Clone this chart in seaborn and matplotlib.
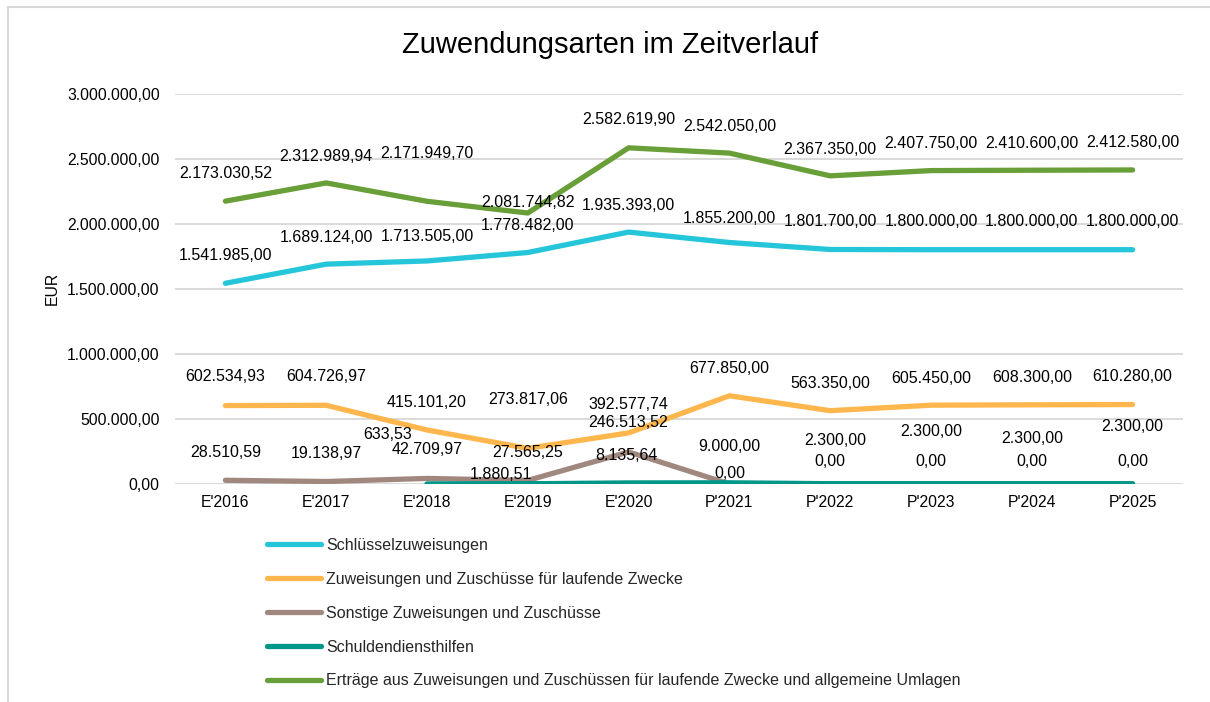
import numpy as np
import pandas as pd
import matplotlib
matplotlib.use("Agg")
import matplotlib.pyplot as plt
import seaborn as sns
from matplotlib.lines import Line2D
from matplotlib.ticker import FuncFormatter

# ---------------- data ----------------
years = ["E'2016", "E'2017", "E'2018", "E'2019", "E'2020",
         "P'2021", "P'2022", "P'2023", "P'2024", "P'2025"]
series_names = [
    "Schlüsselzuweisungen",
    "Zuweisungen und Zuschüsse für laufende Zwecke",
    "Sonstige Zuweisungen und Zuschüsse",
    "Schuldendiensthilfen",
    "Erträge aus Zuweisungen und Zuschüssen für laufende Zwecke und allgemeine Umlagen",
]
schluessel = [1541985.00, 1689124.00, 1713505.00, 1778482.00, 1935393.00,
              1855200.00, 1801700.00, 1800000.00, 1800000.00, 1800000.00]
laufend = [602534.93, 604726.97, 415101.20, 273817.06, 392577.74,
           677850.00, 563350.00, 605450.00, 608300.00, 610280.00]
sonstige = [28510.59, 19138.97, 42709.97, 27565.25, 246513.52,
            0.00, 0.00, 0.00, 0.00, 0.00]
schuldendienst = [np.nan, np.nan, 633.53, 1880.51, 8135.64,
                  9000.00, 2300.00, 2300.00, 2300.00, 2300.00]
ertraege = [2173030.52, 2312989.94, 2171949.70, 2081744.82, 2582619.90,
            2542050.00, 2367350.00, 2407750.00, 2410600.00, 2412580.00]
y_ticks = [0, 500000, 1000000, 1500000, 2000000, 2500000, 3000000]

# ---------------- styles ----------------
colors = ["#26C6DA", "#FFB74D", "#A1887F", "#009688", "#689F38"]
# label offsets (pixels) above each point
label_dy = [
    [28, 27, 24, 27, 27, 24, 28, 28, 28, 28],
    [29, 29, 27, 49, 28, 27, 27, 27, 27, 28],
    [28, 28, 29, 28, 29, 11, 22, 22, 22, 22],
    [0, 0, 49, 9, 27, 36, 43, 52, 45, 57],
    [28, 26, 48, 11, 28, 27, 26, 27, 27, 27],
]
label_dx = [
    [0] * 10,
    [0] * 10,
    [0] * 10,
    [0, 0, -39, -27, -2, 0, 5, 0, 0, 0],
    [0] * 10,
]

sns.set_theme(style="white")
plt.rcParams["font.family"] = ["Liberation Sans", "DejaVu Sans"]

W, H = 1210, 702
fig = plt.figure(figsize=(W / 100, H / 100), dpi=100)
fig.patch.set_facecolor("white")
ax = fig.add_axes([175 / W, 1 - 484 / H, (1183 - 175) / W, (484 - 93.5) / H])

all_values = [schluessel, laufend, sonstige, schuldendienst, ertraege]
rows = []
for name, vals in zip(series_names, all_values):
    for i, v in enumerate(vals):
        if not np.isnan(v):
            rows.append({"pos": i, "value": v, "series": name})
df = pd.DataFrame(rows)

sns.lineplot(data=df, x="pos", y="value", hue="series", hue_order=series_names,
             palette=colors, linewidth=3.8, legend=False, ax=ax, sort=False,
             estimator=None)
for ln in ax.get_lines():
    ln.set_solid_capstyle("round")
    ln.set_solid_joinstyle("round")


def de_fmt(v, _=None):
    s = f"{v:,.2f}"
    return s.replace(",", "X").replace(".", ",").replace("X", ".")


ax.set_xlim(-0.5, 9.5)
ax.set_ylim(0, 3000000)
ax.set_yticks(y_ticks)
ax.yaxis.set_major_formatter(FuncFormatter(de_fmt))
ax.set_xticks(range(len(years)))
ax.set_xticklabels(years)
ax.tick_params(axis="y", length=0, pad=11, labelsize=11.3, labelcolor="#000000")
ax.tick_params(axis="x", length=0, pad=8, labelsize=11.3, labelcolor="#000000")
ax.grid(axis="y", color="#D9D9D9", linewidth=1.4)
ax.grid(axis="x", visible=False)
ax.set_axisbelow(True)
for sp in ax.spines.values():
    sp.set_visible(False)
ax.set_xlabel("")
ax.set_ylabel("")

# data labels
for si, vals in enumerate(all_values):
    for i, v in enumerate(vals):
        if np.isnan(v):
            continue
        ax.annotate(de_fmt(v), xy=(i, v), xytext=(label_dx[si][i], label_dy[si][i]),
                    textcoords="offset pixels", ha="center", va="center",
                    fontsize=11.5, color="#000000", zorder=10,
                    annotation_clip=False)

# title & axis label
fig.text(610 / W, 1 - 45 / H, "Zuwendungsarten im Zeitverlauf", ha="center",
         va="center", fontsize=21, color="#000000")
fig.text(52 / W, 1 - 288 / H, "EUR", rotation=90, ha="center", va="center",
         fontsize=11.3, color="#000000")

# legend
handles = [Line2D([0], [0], color=c, lw=3.8, solid_capstyle="round") for c in colors]
fig.legend(handles, series_names, loc="upper left",
           bbox_to_anchor=(267 / W, 1 - 538 / H), frameon=False,
           fontsize=11.5, handlelength=3.4, handletextpad=0.3,
           labelspacing=1.18, borderpad=0, borderaxespad=0)

# chart border (top and left visible)
fig.add_artist(Line2D([8 / W, 8 / W], [0, 1 - 7 / H], transform=fig.transFigure,
                      color="#D9D9D9", lw=1.5))
fig.add_artist(Line2D([8 / W, 1], [1 - 7 / H, 1 - 7 / H], transform=fig.transFigure,
                      color="#D9D9D9", lw=1.5))

fig.savefig("out.png", dpi=100, facecolor="white")
